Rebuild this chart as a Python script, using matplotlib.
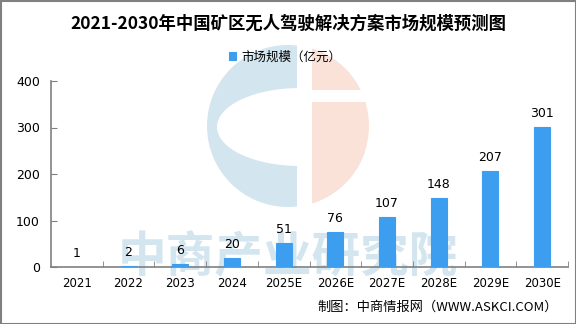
import matplotlib.pyplot as plt
from matplotlib.patches import Circle, Ellipse, Rectangle

plt.rcParams['font.family'] = ['Noto Sans CJK SC', 'DejaVu Sans']

years = ['2021', '2022', '2023', '2024', '2025E', '2026E', '2027E', '2028E', '2029E', '2030E']
market_size = [1, 2, 6, 20, 51, 76, 107, 148, 207, 301]

bar_color = '#3d9ef0'
axis_color = '#808080'

fig = plt.figure(figsize=(5.76, 3.24), dpi=100)
fig.patch.set_facecolor('white')

# background layer in pixel coordinates for the watermark
bg = fig.add_axes([0, 0, 1, 1], zorder=0)
bg.set_xlim(0, 576)
bg.set_ylim(324, 0)
bg.axis('off')

logo_blue = '#d3e5ef'
logo_pink = '#fae2d8'
bg.add_patch(Circle((288, 126), 81, color=logo_blue, lw=0))
bg.add_patch(Ellipse((300, 127), 166, 78, color='white', lw=0))
pink = Circle((288, 126), 81, color=logo_pink, lw=0)
bg.add_patch(pink)
pink.set_clip_path(Rectangle((312, 0), 300, 324, transform=bg.transData))
bg.add_patch(Rectangle((297, 30), 15, 200, color='white', lw=0))
bg.add_patch(Rectangle((312, 90), 70, 12, color='white', lw=0))
bg.text(288, 258, '中商产业研究院', fontsize=35, fontweight='bold',
        color=logo_blue, ha='center', va='center')

# figure border
bg.add_patch(Rectangle((0.5, 0.5), 575, 323, fill=False, ec=axis_color, lw=1.5))

ax = fig.add_axes([51 / 576, 57 / 324, 517 / 576, 186 / 324], zorder=1)
ax.set_facecolor('none')

x = range(len(years))
bars = ax.bar(x, market_size, width=0.31, color=bar_color, edgecolor=bar_color,
              linewidth=0.8, label='市场规模（亿元）', zorder=3)
ax.bar_label(bars, labels=[str(v) for v in market_size], padding=5, fontsize=9,
             family='DejaVu Sans')

ax.set_xlim(-0.5, len(years) - 0.5)
ax.set_ylim(0, 400)
ax.set_yticks([0, 100, 200, 300, 400])
ax.set_xticks(list(x))
ax.set_xticklabels(years)
ax.set_xticks([i - 0.5 for i in range(1, len(years) + 1)], minor=True)

for side in ['top', 'right']:
    ax.spines[side].set_visible(False)
for side in ['left', 'bottom']:
    ax.spines[side].set_color(axis_color)
    ax.spines[side].set_linewidth(1.2)

ax.tick_params(axis='y', direction='in', length=4, color=axis_color, labelsize=9, pad=8)
ax.tick_params(axis='x', which='major', length=0, labelsize=8.5, pad=7)
ax.tick_params(axis='x', which='minor', direction='in', length=4, color=axis_color)
for lbl in ax.get_xticklabels() + ax.get_yticklabels():
    lbl.set_family('DejaVu Sans')

ax.legend(loc='center', bbox_to_anchor=(285 / 576, 1 - 57 / 324), bbox_transform=fig.transFigure,
          frameon=False, fontsize=9, handlelength=0.6, handleheight=0.6, handletextpad=0.4)

fig.text(288 / 576, 1 - 24 / 324, '2021-2030年中国矿区无人驾驶解决方案市场规模预测图',
         ha='center', va='center', fontsize=12.5, fontweight='bold')
fig.text(558 / 576, 1 - 307 / 324, '制图：中商情报网（WWW.ASKCI.COM）',
         ha='right', va='center', fontsize=9.5)

fig.savefig('out.png', dpi=100)
